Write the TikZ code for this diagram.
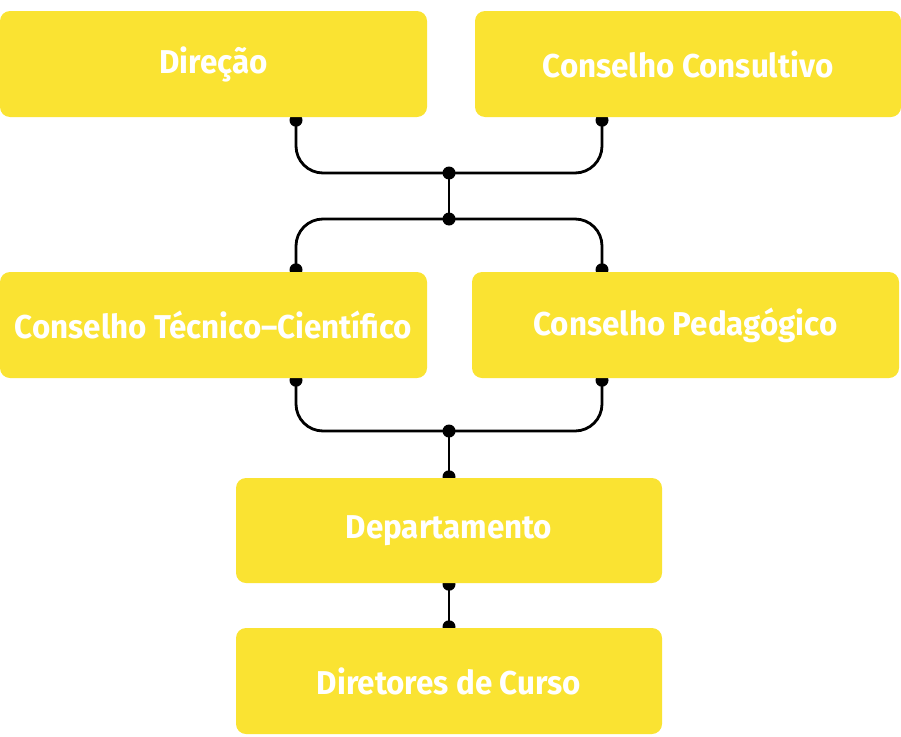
\documentclass[tikz,border=0pt]{standalone}
\usepackage{fontspec}
\setmainfont{Fira Sans}[FakeStretch=0.95]
\usetikzlibrary{backgrounds}
\definecolor{boxyellow}{HTML}{FAE332}

\begin{document}
\begin{tikzpicture}[x=1pt, y=-1pt,
		unit/.style={fill=boxyellow, rounded corners=10pt, text=white,
			font=\fontsize{33}{36}\selectfont\bfseries,
			minimum width=427pt, minimum height=106pt, inner sep=0pt},
		link/.style={line width=2.8pt, rounded corners=27pt}]
	\useasboundingbox (0,0) rectangle (901,736);
	% boxes
	\node[unit] (dir) at (213.5,64) {Direção};
	\node[unit, minimum width=426pt] (cons) at (688,64) {Conselho Consultivo};
	\node[unit] (ctc) at (213.5,325) {Conselho Técnico--Científico};
	\node[unit] (ped) at (685.5,325) {Conselho Pedagógico};
	\node[unit, minimum width=426pt, minimum height=105pt] (dep) at (449,530.5) {Departamento};
	\node[unit, minimum width=426pt] (cur) at (449,681) {Diretores de Curso};
	% joints
	\coordinate (dirout) at ([xshift=82.5pt, yshift=-3pt]dir.south);
	\coordinate (consout) at ([xshift=-86pt, yshift=-3pt]cons.south);
	\coordinate (ctcin) at ([xshift=82.5pt, yshift=2pt]ctc.north);
	\coordinate (pedin) at ([xshift=-83.5pt, yshift=2pt]ped.north);
	\coordinate (ctcout) at ([xshift=82.5pt, yshift=-2pt]ctc.south);
	\coordinate (pedout) at ([xshift=-83.5pt, yshift=-2pt]ped.south);
	\coordinate (depin) at ([yshift=1pt]dep.north);
	\coordinate (depout) at ([yshift=-1pt]dep.south);
	\coordinate (curin) at ([yshift=1pt]cur.north);
	\coordinate (top) at (449,173);
	\coordinate (mid) at (449,219);
	\coordinate (low) at (449,431);
	\begin{scope}[on background layer]
		\draw[link] (dirout) |- (top) -| (consout);
		\draw[link] (top) -- (mid);
		\draw[link] (ctcin) |- (mid) -| (pedin);
		\draw[link] (ctcout) |- (low) -| (pedout);
		\draw[link] (low) -- (depin);
		\draw[link] (depout) -- (curin);
		\foreach \p in {dirout,consout,top,mid,ctcin,pedin,ctcout,pedout,low,depin,depout,curin}
			\fill (\p) circle (6.5pt);
	\end{scope}
\end{tikzpicture}
\end{document}
